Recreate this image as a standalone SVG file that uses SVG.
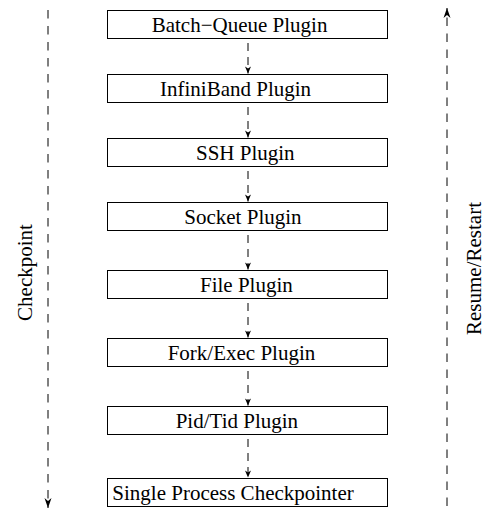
<svg xmlns="http://www.w3.org/2000/svg" width="487" height="515" viewBox="0 0 487 515">
<defs>
<style>
.box rect{fill:#fff;stroke:#000;stroke-width:1}
.box text,.lbl{font-family:"Liberation Serif","Times New Roman",serif;font-size:21px;fill:#000}
.conn{stroke:#000;stroke-width:1;fill:none;stroke-dasharray:8 6}
.side{stroke:#000;stroke-width:1;fill:none;stroke-dasharray:8.5 7.5}
</style>
<marker id="ah" markerUnits="userSpaceOnUse" orient="auto" refX="0" refY="0" markerWidth="10" markerHeight="10" overflow="visible">
<path d="M0,0 L-7,-3 L-5,0 L-7,3 Z" fill="#000"/>
</marker>
<marker id="ahb" markerUnits="userSpaceOnUse" orient="auto" refX="0" refY="0" markerWidth="12" markerHeight="12" overflow="visible">
<path d="M0,0 L-10,-3.5 L-7,0 L-10,3.5 Z" fill="#000"/>
</marker>
</defs>
<rect width="487" height="515" fill="#fff"/>
<g id="connectors">
<line class="side" x1="48" y1="10" x2="48" y2="508" marker-end="url(#ahb)"/>
<line class="side" x1="447" y1="506" x2="447" y2="8" marker-end="url(#ahb)"/>
<line class="conn" x1="248" y1="43" x2="248" y2="73.5" marker-end="url(#ah)"/>
<line class="conn" x1="248" y1="107" x2="248" y2="137.5" marker-end="url(#ah)"/>
<line class="conn" x1="248" y1="171" x2="248" y2="201.5" marker-end="url(#ah)"/>
<line class="conn" x1="248" y1="235" x2="248" y2="269.5" marker-end="url(#ah)"/>
<line class="conn" x1="248" y1="303" x2="248" y2="337.5" marker-end="url(#ah)"/>
<line class="conn" x1="248" y1="371" x2="248" y2="405.5" marker-end="url(#ah)"/>
<line class="conn" x1="248" y1="439" x2="248" y2="477.5" marker-end="url(#ah)"/>
</g>
<g id="n1" class="box"><rect x="107.5" y="10.5" width="280" height="28"/><text x="151.7" y="31.5">Batch−Queue Plugin</text></g>
<g id="n2" class="box"><rect x="107.5" y="74.5" width="280" height="28"/><text x="160" y="95.5">InfiniBand Plugin</text></g>
<g id="n3" class="box"><rect x="107.5" y="138.5" width="280" height="28"/><text x="196" y="159.5">SSH Plugin</text></g>
<g id="n4" class="box"><rect x="107.5" y="202.5" width="280" height="28"/><text x="184.3" y="223.5">Socket Plugin</text></g>
<g id="n5" class="box"><rect x="107.5" y="270.5" width="280" height="28"/><text x="200" y="291.5">File Plugin</text></g>
<g id="n6" class="box"><rect x="107.5" y="338.5" width="280" height="28"/><text x="167.7" y="359.5">Fork/Exec Plugin</text></g>
<g id="n7" class="box"><rect x="107.5" y="406.5" width="280" height="28"/><text x="175.7" y="427.5">Pid/Tid Plugin</text></g>
<g id="n8" class="box"><rect x="107.5" y="478.5" width="280" height="28"/><text x="112.3" y="499.5">Single Process Checkpointer</text></g>
<text class="lbl" transform="translate(31.5,272.5) rotate(-90)" text-anchor="middle">Checkpoint</text>
<text class="lbl" transform="translate(481,268.5) rotate(-90)" text-anchor="middle">Resume/Restart</text>
</svg>
